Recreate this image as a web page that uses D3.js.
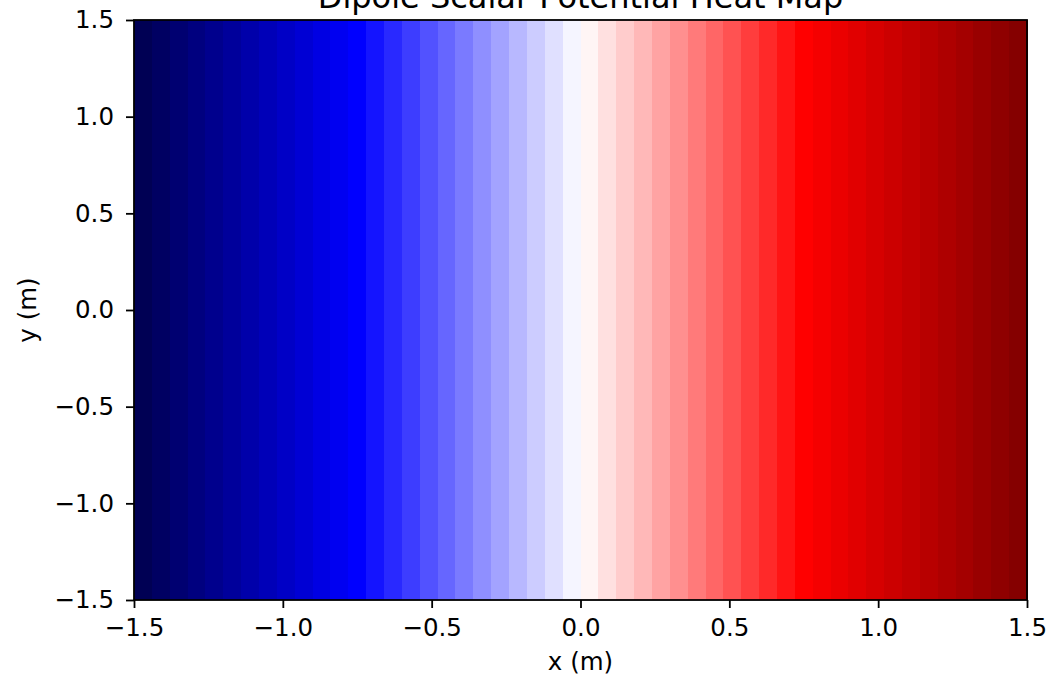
<!DOCTYPE html>
<html>
<head>
<meta charset="utf-8">
<script src="https://cdn.jsdelivr.net/npm/d3@7"></script>
<style>
  body { margin: 0; background: #fff; }
  svg { display: block; }
  svg text { font-family: "DejaVu Sans", sans-serif; }
</style>
</head>
<body>
<svg id="chart" width="1049" height="681"></svg>
<script>
// column centres along x (m) and the potential read for each column
const xCenters = [-1.47, -1.41, -1.35, -1.29, -1.23, -1.17, -1.11, -1.05, -0.99, -0.93,
  -0.87, -0.81, -0.75, -0.69, -0.63, -0.57, -0.51, -0.45, -0.39, -0.33,
  -0.27, -0.21, -0.15, -0.09, -0.03, 0.03, 0.09, 0.15, 0.21, 0.27,
  0.33, 0.39, 0.45, 0.51, 0.57, 0.63, 0.69, 0.75, 0.81, 0.87,
  0.93, 0.99, 1.05, 1.11, 1.17, 1.23, 1.29, 1.35, 1.41, 1.47];
const potential = [-1.47, -1.41, -1.35, -1.29, -1.23, -1.17, -1.11, -1.05, -0.99, -0.93,
  -0.87, -0.81, -0.75, -0.69, -0.63, -0.57, -0.51, -0.45, -0.39, -0.33,
  -0.27, -0.21, -0.15, -0.09, -0.03, 0.03, 0.09, 0.15, 0.21, 0.27,
  0.33, 0.39, 0.45, 0.51, 0.57, 0.63, 0.69, 0.75, 0.81, 0.87,
  0.93, 0.99, 1.05, 1.11, 1.17, 1.23, 1.29, 1.35, 1.41, 1.47];
const xTicks = [-1.5, -1.0, -0.5, 0.0, 0.5, 1.0, 1.5];
const yTicks = [-1.5, -1.0, -0.5, 0.0, 0.5, 1.0, 1.5];

let chartAttr = {
  "left": 134,
  "right": 1027,
  "top": 20,
  "bottom": 600
};
let fontSize = "24.5px";

let svg = d3.select("#chart");

let x = d3.scaleLinear().domain([-1.5, 1.5]).range([chartAttr.left, chartAttr.right]);
let y = d3.scaleLinear().domain([-1.5, 1.5]).range([chartAttr.bottom, chartAttr.top]);

// matplotlib "seismic" colormap
let seismic = d3.scaleLinear()
  .domain([0, 0.25, 0.5, 0.75, 1])
  .range(["rgb(0,0,77)", "rgb(0,0,255)", "rgb(255,255,255)", "rgb(255,0,0)", "rgb(128,0,0)"])
  .clamp(true);
let norm = d3.scaleLinear().domain([-1.5, 1.5]).range([0, 1]);

let cellW = x(xCenters[1]) - x(xCenters[0]);

// heat map columns
svg.append("g")
  .selectAll("rect")
  .data(xCenters)
  .join("rect")
  .attr("x", d => x(d) - cellW / 2)
  .attr("y", y(1.5))
  .attr("width", cellW + 0.6)
  .attr("height", y(-1.5) - y(1.5))
  .attr("shape-rendering", "crispEdges")
  .style("fill", (d, i) => seismic(norm(potential[i])));

// axes
let fmt = d => d3.format(".1f")(d).replace("-", "\u2212");

let xAxis = svg.append("g")
  .attr("transform", "translate(0," + chartAttr.bottom + ")")
  .call(d3.axisBottom(x).tickValues(xTicks).tickFormat(fmt).tickSize(8).tickPadding(11).tickSizeOuter(0));
let yAxis = svg.append("g")
  .attr("transform", "translate(" + chartAttr.left + ",0)")
  .call(d3.axisLeft(y).tickValues(yTicks).tickFormat(fmt).tickSize(8).tickPadding(12).tickSizeOuter(0));

for (let ax of [xAxis, yAxis]) {
  ax.attr("font-family", null).attr("font-size", null);
  ax.select(".domain").remove();
  ax.selectAll("line").style("stroke", "#000").style("stroke-width", 1.8);
  ax.selectAll("text")
    .style("font-family", "'DejaVu Sans', sans-serif")
    .style("font-size", fontSize)
    .style("fill", "#000");
}

// frame
svg.append("rect")
  .attr("x", chartAttr.left)
  .attr("y", chartAttr.top)
  .attr("width", chartAttr.right - chartAttr.left)
  .attr("height", chartAttr.bottom - chartAttr.top)
  .style("fill", "none")
  .style("stroke", "#000")
  .style("stroke-width", 1.8);

// labels
svg.append("text")
  .attr("x", (chartAttr.left + chartAttr.right) / 2)
  .attr("y", 670)
  .text("x (m)")
  .style("text-anchor", "middle")
  .style("font-size", fontSize);
svg.append("text")
  .attr("transform", "translate(36," + (chartAttr.top + chartAttr.bottom) / 2 + ")rotate(-90)")
  .text("y (m)")
  .style("text-anchor", "middle")
  .style("font-size", fontSize);
svg.append("text")
  .attr("x", (chartAttr.left + chartAttr.right) / 2)
  .attr("y", 8)
  .text("Dipole Scalar Potential Heat Map")
  .style("text-anchor", "middle")
  .style("font-size", "32px");
</script>
</body>
</html>
